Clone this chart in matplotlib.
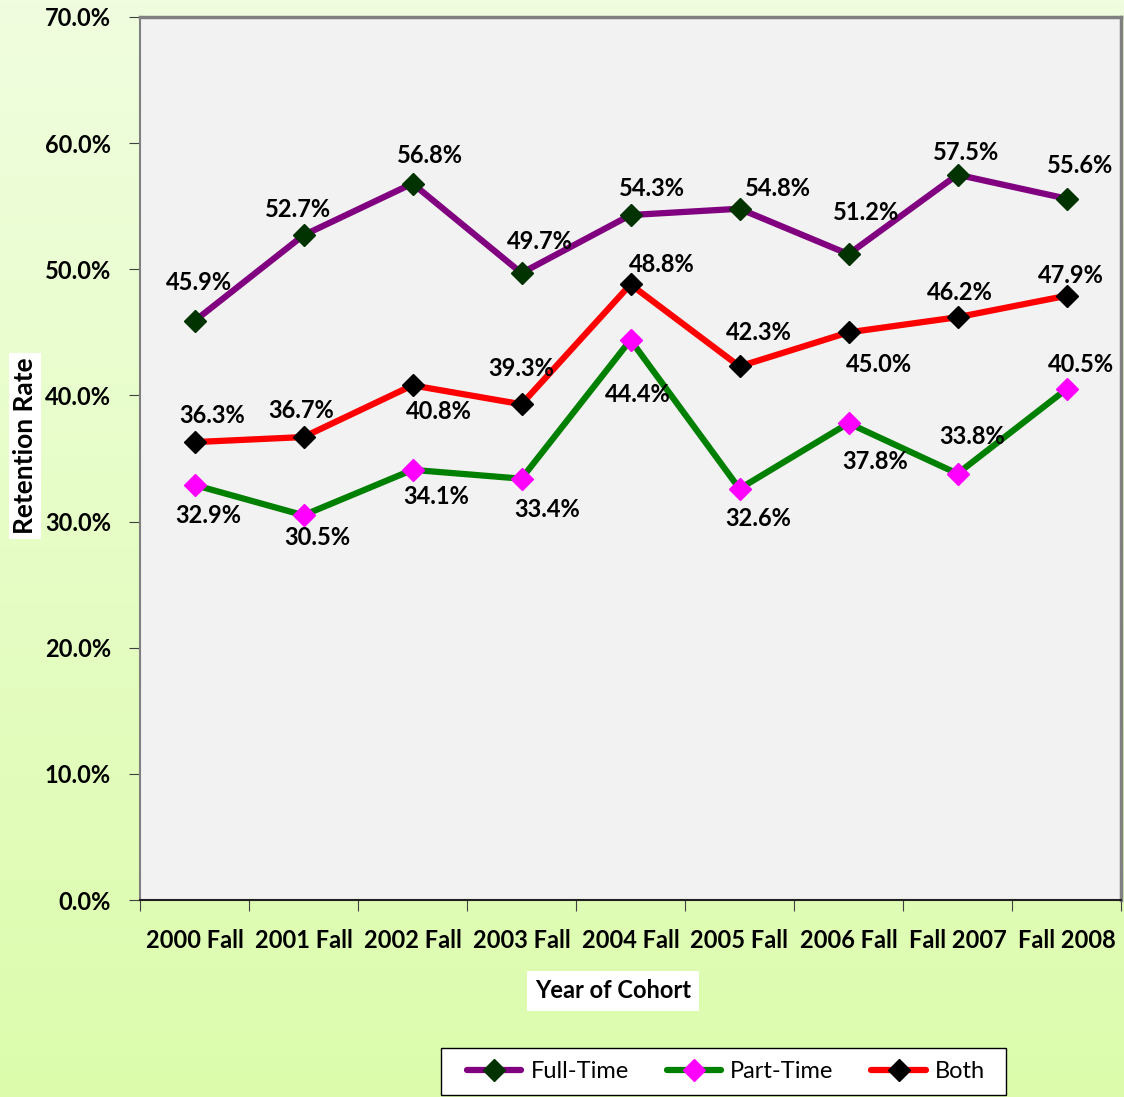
import matplotlib
matplotlib.use("Agg")
import matplotlib.pyplot as plt
import numpy as np
from matplotlib.lines import Line2D
from matplotlib.patches import Rectangle

categories = ["2000 Fall", "2001 Fall", "2002 Fall", "2003 Fall", "2004 Fall",
              "2005 Fall", "2006 Fall", "Fall 2007", "Fall 2008"]
full_time = [45.9, 52.7, 56.8, 49.7, 54.3, 54.8, 51.2, 57.5, 55.6]
part_time = [32.9, 30.5, 34.1, 33.4, 44.4, 32.6, 37.8, 33.8, 40.5]
both = [36.3, 36.7, 40.8, 39.3, 48.8, 42.3, 45.0, 46.2, 47.9]
y_ticks = [0, 10, 20, 30, 40, 50, 60, 70]

# label offsets (pixels, x right / y up)
off_full = [(5, 39), (-6, 26), (17, 28), (18, 32), (21, 27), (38, 20), (18, 42), (9, 22), (14, 33)]
off_both = [(18, 27), (-2, 27), (26, -26), (0, 36), (31, 20), (19, 34), (30, -32), (2, 25), (4, 20)]
off_part = [(14, -31), (14, -22), (24, -27), (26, -31), (7, -55), (19, -30), (27, -38), (15, 37), (15, 25)]

plt.rcParams['font.family'] = ['Lato', 'DejaVu Sans']

W, H = 1124, 1097
fig = plt.figure(figsize=(W / 100, H / 100), dpi=100)

# gradient background
bg = fig.add_axes([0, 0, 1, 1], zorder=-10)
top = np.array([0xF0, 0xFE, 0xDF]) / 255
bot = np.array([0xDC, 0xFC, 0xAC]) / 255
t = np.linspace(0, 1, 256)[:, None]
grad = top[None, :] * (1 - t) + bot[None, :] * t
bg.imshow(grad[:, None, :], aspect='auto', extent=[0, 1, 0, 1], origin='upper')
bg.set_axis_off()

ax = fig.add_axes([140 / W, (H - 900) / H, (1121 - 140) / W, (900 - 17) / H])
ax.set_facecolor('#F2F2F2')

x = np.arange(len(categories)) + 0.5

FS = 17
series = [
    (full_time, '#800080', '#003300', 'Full-Time', off_full),
    (part_time, '#008000', '#FF00FF', 'Part-Time', off_part),
    (both, '#FF0000', '#000000', 'Both', off_both),
]
for vals, lc, mc, name, offs in series:
    ax.plot(x, vals, color=lc, lw=4.5, marker='D', ms=11, mfc=mc, mec=mc,
            label=name, solid_capstyle='round', zorder=3)
    for xi, v, (dx, dy) in zip(x, vals, offs):
        ax.annotate(f"{v:.1f}%", (xi, v), xytext=(dx, dy), textcoords='offset pixels',
                    ha='center', va='center', fontsize=FS, fontweight='bold',
                    color='black', zorder=5)

ax.set_xlim(0, len(categories))
ax.set_ylim(0, 70)
ax.set_yticks(y_ticks)
ax.set_yticklabels([f"{v:.1f}%" for v in y_ticks], fontsize=FS, fontweight='bold')
ax.set_xticks(np.arange(len(categories) + 1))
ax.set_xticklabels([])
ax.set_xticks(x, minor=True)
ax.set_xticklabels(categories, minor=True, fontsize=FS, fontweight='bold')
ax.tick_params(axis='x', which='minor', length=0, pad=21)
ax.tick_params(axis='x', which='major', length=8, direction='out', color='#404040')
ax.tick_params(axis='y', length=8, direction='out', pad=13, color='#404040')

for s in ['top', 'right']:
    ax.spines[s].set_color('#808080')
    ax.spines[s].set_linewidth(2.5)
ax.spines['left'].set_color('#808080')
ax.spines['left'].set_linewidth(1.5)
ax.spines['bottom'].set_color('#202020')
ax.spines['bottom'].set_linewidth(1.5)

fig.text(25 / W, 1 - 446 / H, "Retention Rate", rotation=90, ha='center', va='center',
         fontsize=19, fontweight='bold',
         bbox=dict(facecolor='white', edgecolor='none', pad=3))
fig.text(613 / W, 1 - 991 / H, "Year of Cohort", ha='center', va='center',
         fontsize=FS, fontweight='bold',
         bbox=dict(facecolor='white', edgecolor='none', pad=6))

# legend box
fig.patches.append(Rectangle((441 / W, 1 - 1095 / H), (1006 - 441) / W, (1095 - 1048) / H,
                             transform=fig.transFigure, facecolor='white',
                             edgecolor='black', lw=1.0, zorder=1))
handles = [Line2D([], [], color=lc, lw=4.5, marker='D', ms=11, mfc=mc, mec=mc,
                  solid_capstyle='round') for _, lc, mc, _, _ in series]
labels = [s[3] for s in series]
leg = fig.legend(handles, labels, loc='center', bbox_to_anchor=(726 / W, 1 - 1071.5 / H),
                 ncol=3, frameon=False, fontsize=FS, handlelength=2.3,
                 columnspacing=1.6, handletextpad=0.4, borderpad=0.3, markerscale=1.0)
leg.set_zorder(2)

fig.savefig("out.png", dpi=100)
